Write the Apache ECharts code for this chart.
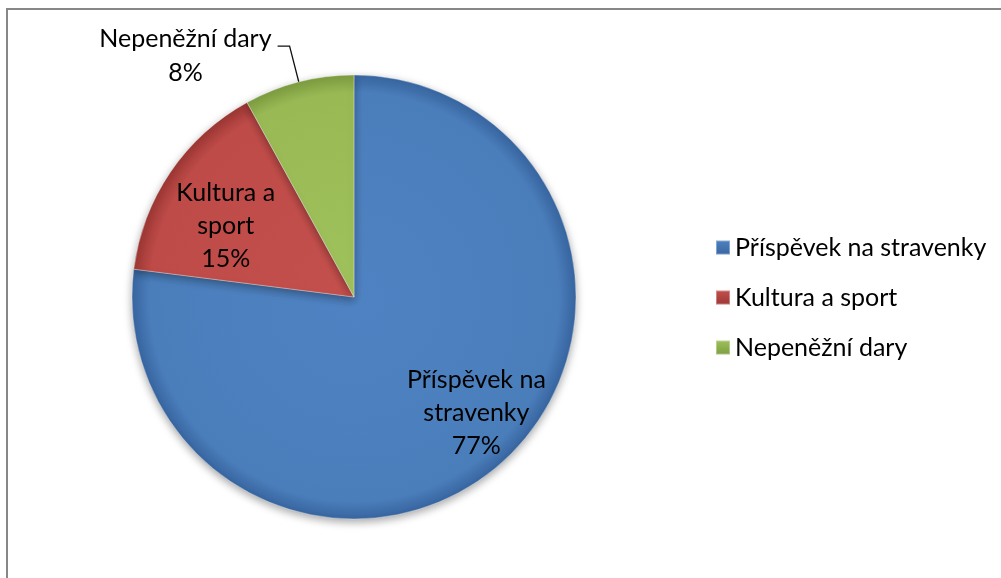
<!DOCTYPE html>
<html>
<head>
<meta charset="utf-8">
<script src="https://cdn.jsdelivr.net/npm/echarts@6/dist/echarts.min.js"></script>
<style>
  html, body { margin: 0; padding: 0; background: #fff; }
  #chart { width: 1001px; height: 578px; }
</style>
</head>
<body>
<div id="chart"></div>
<script>
const categories = ['Příspěvek na stravenky', 'Kultura a sport', 'Nepeněžní dary'];
const shares = [77, 15, 8];
const wrappedNames = ['Příspěvek na\nstravenky', 'Kultura a\nsport', 'Nepeněžní dary'];

const FONT = 'Lato';
const center = [354, 297];
const radius = 222;

// base, rim colours (office 2007 style bevel)
const palette = [
  ['#4f82c2', '#4a7ebb', '#3865a0'],
  ['#c4504d', '#be4b48', '#9c3734'],
  ['#a0c25c', '#98b954', '#7d9c40'],
];

const fill = (c) => new echarts.graphic.RadialGradient(center[0], center[1], radius, [
  { offset: 0, color: c[0] },
  { offset: 0.92, color: c[1] },
  { offset: 1, color: c[2] },
], true);

const legendFill = (c) => new echarts.graphic.LinearGradient(0, 0, 0, 1, [
  { offset: 0, color: c[0] },
  { offset: 1, color: c[2] },
]);

const myChart = echarts.init(document.getElementById('chart'));

const pieData = categories.map((name, i) => {
  const item = {
    name: name,
    value: shares[i],
    itemStyle: { color: fill(palette[i]) },
  };
  if (i === 2) {
    item.label = {
      position: 'outside',
      padding: [20, 0, 0, 0],
      distanceToLabelLine: 6,
      formatter: (p) => '{c|' + wrappedNames[p.dataIndex] + '}\n{c|' + p.value + '%}',
      rich: {
        c: { align: 'center', fontFamily: FONT, fontSize: 25, lineHeight: 34, color: '#000' },
      },
    };
    item.labelLine = {
      show: true,
      length: 37,
      length2: 12,
      lineStyle: { color: '#111', width: 1.3 },
    };
  }
  return item;
});

myChart.setOption({
  animation: false,
  backgroundColor: '#fff',
  graphic: [
    {
      type: 'rect',
      shape: { x: 7, y: 9, width: 1010, height: 600 },
      style: { fill: 'none', stroke: '#878787', lineWidth: 2 },
      silent: true,
    },
  ],
  legend: {
    orient: 'vertical',
    left: 715,
    top: 235,
    padding: 0,
    icon: 'rect',
    itemWidth: 14,
    itemHeight: 14,
    itemGap: 25,
    textStyle: { fontFamily: FONT, fontSize: 25, lineHeight: 24, color: '#000' },
    data: categories.map((name, i) => ({ name: name, itemStyle: { color: legendFill(palette[i]) } })),
    selectedMode: false,
  },
  series: [
    {
      type: 'pie',
      center: center,
      radius: radius,
      startAngle: 90,
      clockwise: true,
      avoidLabelOverlap: false,
      emphasis: { disabled: true },
      itemStyle: {
        borderColor: 'rgba(255,255,255,0.35)',
        borderWidth: 1,
        shadowBlur: 8,
        shadowOffsetY: 3,
        shadowColor: 'rgba(0,0,0,0.35)',
      },
      label: {
        show: true,
        position: 'inside',
        color: '#000',
        fontFamily: FONT,
        fontSize: 25,
        lineHeight: 33,
        formatter: (p) => wrappedNames[p.dataIndex] + '\n' + p.value + '%',
      },
      labelLine: { show: false },
      labelLayout: function (p) {
        // nudge the inside labels to where Excel placed them
        if (p.dataIndex === 0) return { dx: 47, dy: 30 };
        if (p.dataIndex === 1) return { dx: -34, dy: -7 };
        return {};
      },
      data: pieData,
    },
  ],
});
</script>
</body>
</html>
